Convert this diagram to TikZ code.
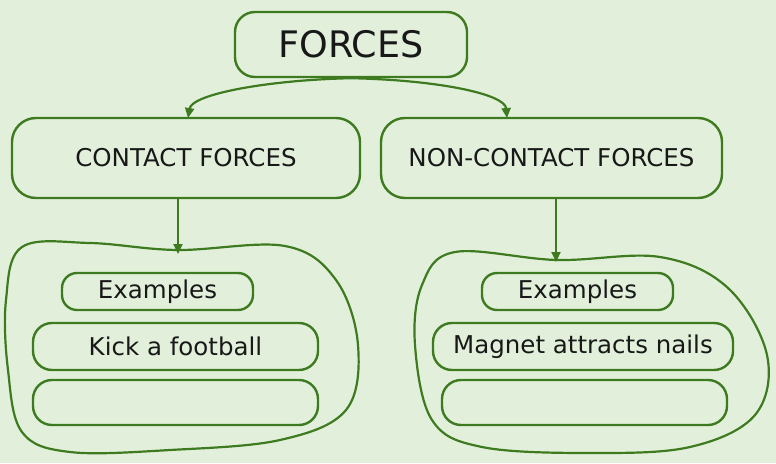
\documentclass[tikz,border=0pt]{standalone}
\usepackage{fontspec}
\setmainfont{DejaVu Sans}
\usetikzlibrary{arrows.meta}
\definecolor{bg}{RGB}{226,240,219}
\definecolor{gr}{RGB}{62,122,32}
\definecolor{txt}{RGB}{24,24,24}
\begin{document}
\begin{tikzpicture}[x=1pt,y=-1pt,
 box/.style={draw=gr,line width=2.4pt,inner sep=0pt,text=txt,font=\fontsize{24.5}{28}\selectfont},
 con/.style={draw=gr,line width=2.2pt,-{Triangle[length=10pt,width=9pt]}},
 blob/.style={draw=gr,line width=2.2pt}]
\fill[bg] (0,0) rectangle (776,463);
\useasboundingbox (0,0) rectangle (776,463);
\node[box,minimum width=232pt,minimum height=65pt,rounded corners=20pt,font=\fontsize{36.5}{42}\selectfont] (forces) at (351,44.5) {FORCES};
\node[box,minimum width=348pt,minimum height=80pt,rounded corners=24pt] (contact) at (186,158) {CONTACT FORCES};
\node[box,minimum width=341pt,minimum height=80pt,rounded corners=24pt] (noncontact) at (551.5,158) {NON-CONTACT FORCES};
% left blob
\draw[blob] plot[smooth cycle,tension=0.6] coordinates {(22,247) (90,243) (177,250) (285,246) (336,280) (358,345) (346,410) (280,440) (170,450) (70,452) (22,432) (8,370) (6,300)};
% right blob
\draw[blob] plot[smooth cycle,tension=0.6] coordinates {(455,252) (557,260) (660,257) (728,288) (767,355) (755,415) (690,447) (590,453) (482,447) (432,420) (415,345) (422,285)};
\node[box,minimum width=191pt,minimum height=37pt,rounded corners=15pt] (exl) at (157.5,291.5) {Examples};
\node[box,minimum width=285pt,minimum height=47pt,rounded corners=19pt] (kick) at (175.5,346.5) {Kick a football};
\node[box,minimum width=285pt,minimum height=45pt,rounded corners=19pt] (emptyl) at (175.5,402.5) {};
\node[box,minimum width=191pt,minimum height=37pt,rounded corners=15pt] (exr) at (577.5,291.5) {Examples};
\node[box,minimum width=300pt,minimum height=47pt,rounded corners=19pt] (magnet) at (583,346.5) {Magnet attracts nails};
\node[box,minimum width=285pt,minimum height=45pt,rounded corners=19pt] (emptyr) at (584.5,402.5) {};
% connectors
\coordinate (la) at (188,118);
\coordinate (ra) at (507,118);
\draw[con] (forces.south) .. controls (268,80) and (192,94) .. (la);
\draw[con] (forces.south) .. controls (438,80) and (505,94) .. (ra);
\coordinate (lt) at (178,254);
\coordinate (rt) at (556,262);
\draw[con] (contact.south -| lt) -- (lt);
\draw[con] (noncontact.south -| rt) -- (rt);
\end{tikzpicture}
\end{document}
